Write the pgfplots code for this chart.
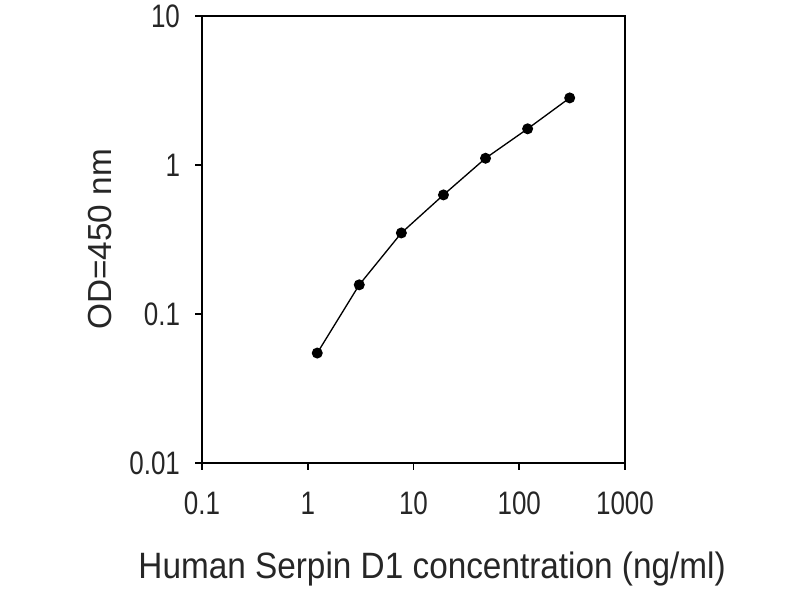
\documentclass[border=0pt]{standalone}
\usepackage{fontspec}
\setmainfont{Liberation Sans}
\usepackage{pgfplots}
\pgfplotsset{compat=1.18}
\begin{document}
\begin{tikzpicture}
\useasboundingbox (-151.5pt,-102.75pt) rectangle (448.5pt,347.25pt);
\begin{axis}[
  at={(0,0)}, anchor=south west,
  scale only axis,
  width=317.25pt, height=335.25pt,
  xmode=log, ymode=log,
  xmin=0.1, xmax=1000, ymin=0.01, ymax=10,
  xtick={0.1,1,10,100,1000}, xticklabels={0.1,1,10,100,1000},
  ytick={0.01,0.1,1,10}, yticklabels={0.01,0.1,1,10},
  minor tick style={draw=none},
  xtick pos=bottom, ytick pos=left,
  tick align=outside,
  major tick length=5pt,
  axis line style={line width=1.5pt},
  tick style={line width=1.2pt, black},
  tick label style={font=\fontsize{19.5}{22}\selectfont, text=black!85, yscale=1.25},
  xticklabel style={yshift=-10pt},
  yticklabel style={xshift=-8pt},
  xlabel={Human Serpin D1 concentration (ng/ml)},
  ylabel={OD=450 nm},
  label style={font=\fontsize{25}{28}\selectfont, text=black!85},
  x label style={at={(axis description cs:0.544,-0.237)}, anchor=center, yscale=1.1},
  y label style={at={(axis description cs:-0.241,0.5)}, anchor=center, rotate=0},
  clip=false,
]
\addplot[black, line width=1pt, mark=*, mark size=3.6pt, mark options={fill=black}]
  coordinates {
    (1.23,0.0547)
    (3.07,0.157)
    (7.68,0.35)
    (19.2,0.63)
    (48,1.11)
    (120,1.75)
    (300,2.82)
  };
\end{axis}
\end{tikzpicture}
\end{document}
